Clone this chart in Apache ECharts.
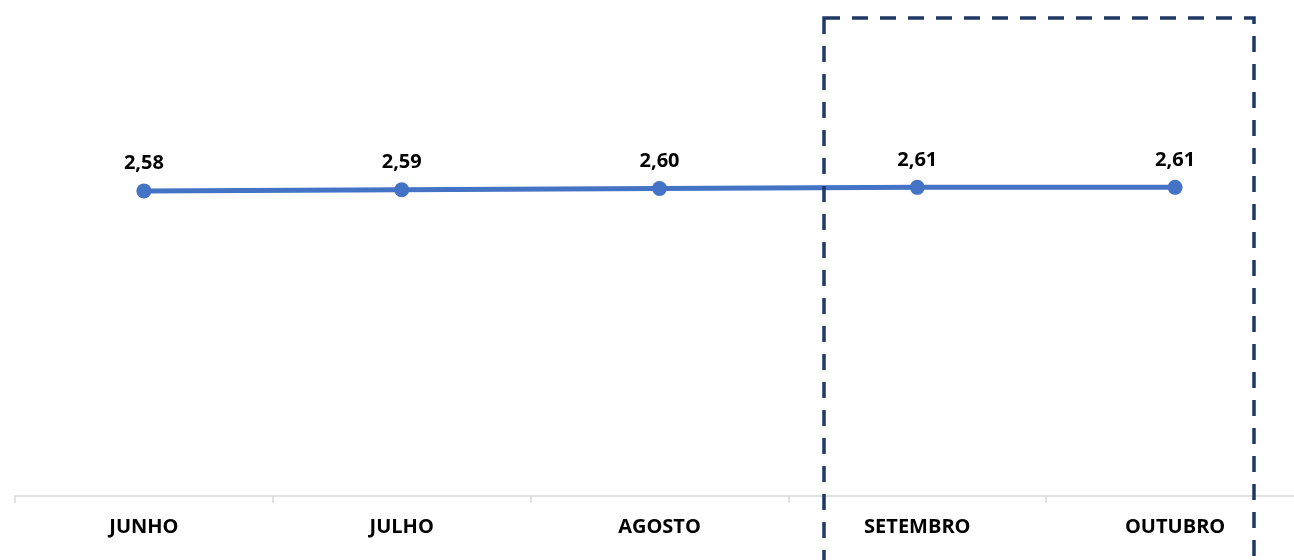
<!DOCTYPE html>
<html><head><meta charset="utf-8">
<script src="https://cdn.jsdelivr.net/npm/echarts@6/dist/echarts.min.js"></script>
<style>html,body{margin:0;padding:0;background:#fff;overflow:hidden;width:1294px;height:560px}#c{width:1304px;height:560px}</style>
</head><body><div id="c"></div>
<script>
var categories = ['JUNHO', 'JULHO', 'AGOSTO', 'SETEMBRO', 'OUTUBRO'];
var values = [2.58, 2.59, 2.60, 2.61, 2.61];
var yMin = 0, yMax = 4;

var chart = echarts.init(document.getElementById('c'));
chart.setOption({
  animation: false,
  grid: { left: 15, top: 23, right: 0, bottom: 64, containLabel: false },
  xAxis: {
    type: 'category', data: categories, boundaryGap: true,
    axisLine: { lineStyle: { color: '#d9d9d9', width: 1.5 } },
    axisTick: { show: true, length: 7, lineStyle: { color: '#d9d9d9', width: 1.5 } },
    axisLabel: { color: '#000', fontWeight: 'bold', fontSize: 20, fontFamily: 'Open Sans', margin: 21 }
  },
  yAxis: { type: 'value', min: yMin, max: yMax, show: false, splitLine: { show: false } },
  series: [{
    type: 'line', data: values,
    symbol: 'circle', symbolSize: 15,
    lineStyle: { color: '#4472C4', width: 5 },
    itemStyle: { color: '#4472C4' },
    label: {
      show: true, position: 'top', distance: 10,
      color: '#000', fontWeight: 'bold', fontSize: 20, fontFamily: 'Open Sans',
      formatter: function (p) { return p.value.toFixed(2).replace('.', ','); }
    }
  }],
  graphic: [{
    type: 'rect', z: 100,
    shape: { x: 824, y: 18, width: 430, height: 600 },
    style: { fill: 'none', stroke: '#203864', lineWidth: 3.5, lineDash: [16, 12] }
  }]
});
</script></body></html>
